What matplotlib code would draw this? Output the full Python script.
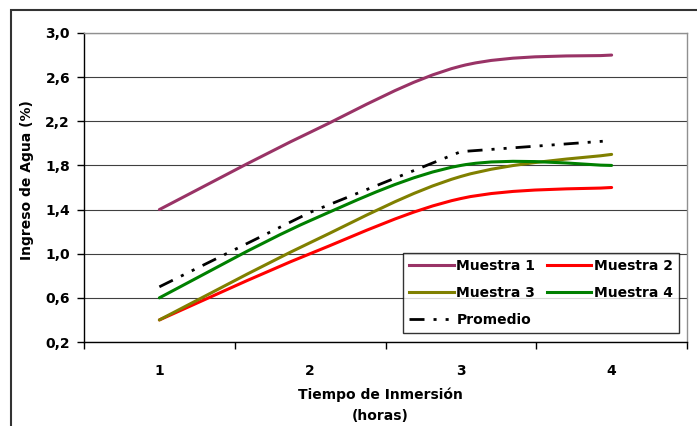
import numpy as np
import matplotlib
matplotlib.use("Agg")
import matplotlib.pyplot as plt
from matplotlib.path import Path
from matplotlib.patches import PathPatch, Rectangle
from matplotlib.lines import Line2D

# Water uptake (%) per immersion time (hours)
horas = [1, 2, 3, 4]
muestra_1 = [1.4, 2.1, 2.7, 2.8]
muestra_2 = [0.4, 1.0, 1.5, 1.6]
muestra_3 = [0.4, 1.1, 1.7, 1.9]
muestra_4 = [0.6, 1.3, 1.8, 1.8]
promedio = [0.7, 1.375, 1.925, 2.025]

y_ticks = [0.2, 0.6, 1.0, 1.4, 1.8, 2.2, 2.6, 3.0]
x_labels = ["1", "2", "3", "4"]

plt.rcParams["lines.scale_dashes"] = False
plt.rcParams["font.family"] = ["DejaVu Sans"]

W, H = 697, 426
fig = plt.figure(figsize=(W / 100, H / 100), dpi=100)
fig.patch.set_facecolor("white")

# outer chart frame
fig.add_artist(Rectangle((11 / W, -0.5), 2.0, (1 - 10 / H) + 0.5,
                         transform=fig.transFigure, fill=False,
                         edgecolor="#333333", linewidth=1.5))

left, right, top, bottom = 84, 687, 33, 342
ax = fig.add_axes([left / W, 1 - bottom / H, (right - left) / W, (bottom - top) / H])


def smooth_path(xs, ys):
    """Bezier path through the points, smoothed like a spreadsheet line chart."""
    pts = np.column_stack([xs, ys]).astype(float)
    n = len(pts)
    verts = [pts[0]]
    codes = [Path.MOVETO]
    for i in range(n - 1):
        p0 = pts[i - 1] if i > 0 else pts[i]
        p1, p2 = pts[i], pts[i + 1]
        p3 = pts[i + 2] if i + 2 < n else pts[i + 1]
        verts += [p1 + (p2 - p0) / 6, p2 - (p3 - p1) / 6, p2]
        codes += [Path.CURVE4] * 3
    return Path(verts, codes)


lw = 2.2
series = [
    ("Muestra 1", muestra_1, "#993366"),
    ("Muestra 2", muestra_2, "#FF0000"),
    ("Muestra 3", muestra_3, "#808000"),
    ("Muestra 4", muestra_4, "#008000"),
]
handles = {}
for name, vals, col in series:
    ax.add_patch(PathPatch(smooth_path(horas, vals), fill=False, edgecolor=col,
                           linewidth=lw, capstyle="round", joinstyle="round", zorder=3))
    handles[name] = Line2D([], [], color=col, linewidth=lw)

dash = (0, (10.8, 6.5, 2.2, 6.5, 2.2, 6.5))
ax.plot(horas, promedio, color="black", linewidth=2.0, linestyle=dash, zorder=4)
handles["Promedio"] = Line2D([], [], color="black", linewidth=2.0,
                             linestyle=(0, (10.8, 6.5, 2.2, 6.5, 2.2, 6.5)))

ax.set_xlim(0.5, 4.5)
ax.set_ylim(0.2, 3.0)

ax.set_yticks(y_ticks)
ax.set_yticklabels([f"{v:.1f}".replace(".", ",") for v in y_ticks],
                   fontsize=10, fontweight="bold")
ax.set_xticks(horas)
ax.set_xticklabels(x_labels, fontsize=10, fontweight="bold")
ax.set_xticks([0.5, 1.5, 2.5, 3.5, 4.5], minor=True)
ax.tick_params(axis="x", which="major", length=0, pad=16)
ax.tick_params(axis="x", which="minor", length=5, width=1, color="black", direction="out")
ax.tick_params(axis="y", which="major", length=5, width=1, color="black",
               direction="out", pad=5)

ax.grid(axis="y", color="#404040", linewidth=0.8)
ax.set_axisbelow(True)
for s in ("top", "right"):
    ax.spines[s].set_color("#909090")
    ax.spines[s].set_linewidth(1.0)
for s in ("left", "bottom"):
    ax.spines[s].set_color("black")
    ax.spines[s].set_linewidth(1.0)

fig.text(380 / W, 1 - 388 / H, "Tiempo de Inmersión\n(horas)", ha="center", va="top",
         fontsize=10, fontweight="bold", linespacing=1.6)
fig.text(27 / W, 1 - 180 / H, "Ingreso de Agua (%)", ha="center", va="center",
         rotation=90, fontsize=10, fontweight="bold")

order = ["Muestra 1", "Muestra 3", "Promedio", "Muestra 2", "Muestra 4"]
leg = fig.legend([handles[k] for k in order], order, ncol=2,
                 loc="upper left", bbox_to_anchor=(403 / W, 1 - 253 / H),
                 bbox_transform=fig.transFigure, borderaxespad=0,
                 prop={"size": 10, "weight": "bold"}, frameon=True, fancybox=False,
                 handlelength=3.2, handletextpad=0.2, columnspacing=0.8,
                 labelspacing=0.93, borderpad=0.45)
leg.get_frame().set_edgecolor("black")
leg.get_frame().set_linewidth(1.0)

fig.savefig("out.png", dpi=100, facecolor="white")
